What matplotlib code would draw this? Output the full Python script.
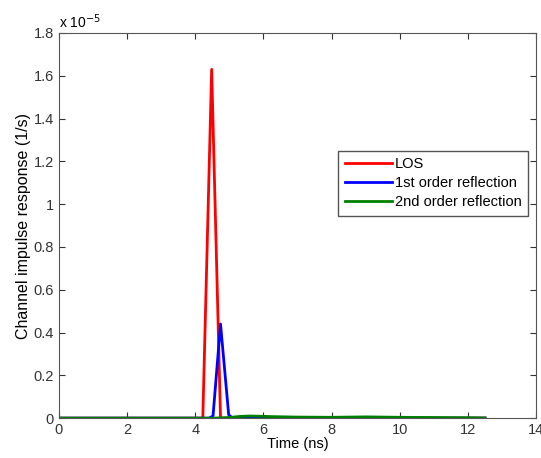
import matplotlib
matplotlib.use('Agg')
import matplotlib.pyplot as plt

plt.rcParams['font.family'] = ['Liberation Sans', 'DejaVu Sans']
plt.rcParams['font.size'] = 10.5

# Time axis (ns) and responses (x 1e-5, 1/s)
t_los = [0, 4.0, 4.22, 4.48, 4.74, 5.0, 12.5]
h_los = [0, 0, 0, 1.63, 0, 0, 0]

t_first = [0, 4.4, 4.52, 4.74, 4.98, 5.1, 12.5]
h_first = [0, 0, 0.01, 0.44, 0.015, 0, 0]

t_second = [0, 4.5, 5.0, 5.3, 5.6, 5.9, 6.3, 7.0, 8.0, 9.0, 10.0, 11.0, 12.0, 12.5]
h_second = [0, 0, 0.003, 0.008, 0.01, 0.009, 0.007, 0.005, 0.004, 0.006, 0.004, 0.003, 0.002, 0.001]

fig = plt.figure(figsize=(5.41, 4.58), dpi=100)
ax = fig.add_axes([0.109, 0.087, 0.882, 0.841])

ax.plot(t_los, h_los, color='#ff0000', lw=2, label='LOS')
ax.plot(t_first, h_first, color='#0000ff', lw=2, label='1st order reflection')
ax.plot(t_second, h_second, color='#008000', lw=2, label='2nd order reflection')

ax.set_xlim(0, 14)
ax.set_ylim(0, 1.8)
ax.set_xticks(range(0, 15, 2))
ax.set_yticks([0, 0.2, 0.4, 0.6, 0.8, 1, 1.2, 1.4, 1.6, 1.8])
ax.set_yticklabels(['0', '0.2', '0.4', '0.6', '0.8', '1', '1.2', '1.4', '1.6', '1.8'])
ax.tick_params(direction='in', top=True, right=True, length=4, colors='#333333')
for s in ax.spines.values():
    s.set_color('#555555')
    s.set_linewidth(0.8)

ax.set_xlabel('Time (ns)', labelpad=0)
ax.set_ylabel('Channel impulse response (1/s)', fontsize=11.5, labelpad=2)
ax.text(0.0, 1.005, r'x 10$^{-5}$', transform=ax.transAxes, va='bottom', ha='left', fontsize=10)

ax.legend(loc='upper right', bbox_to_anchor=(0.992, 0.706), fancybox=False,
          edgecolor='#555555', framealpha=1, handlelength=3.2, borderpad=0.45,
          labelspacing=0.35, handletextpad=0.2, borderaxespad=0.3)

fig.savefig('out.png', dpi=100)
